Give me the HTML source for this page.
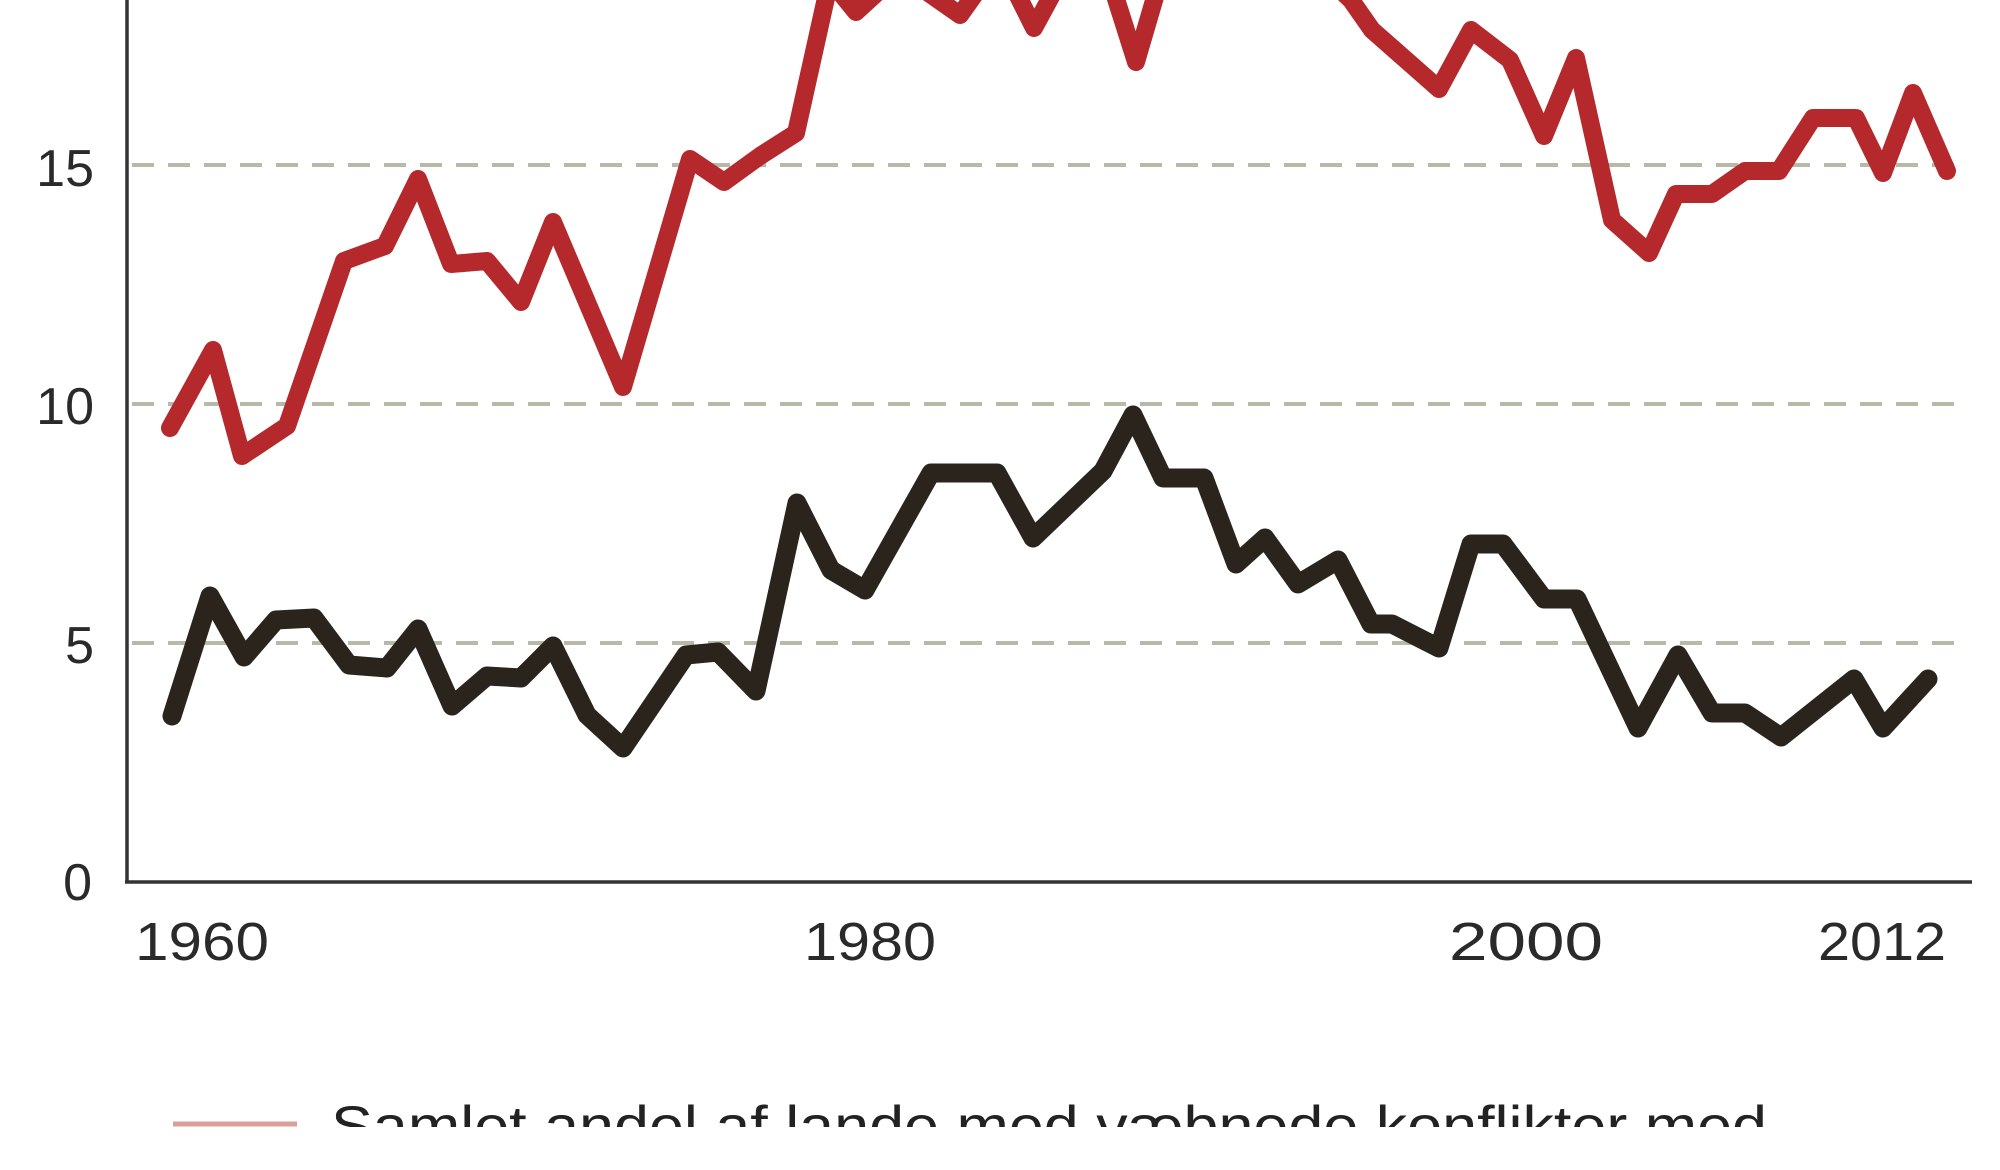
<!DOCTYPE html>
<html><head><meta charset="utf-8"><style>html,body{margin:0;padding:0;background:#fff;overflow:hidden}</style></head>
<body>
<svg width="2000" height="1165" viewBox="0 0 2000 1165" xmlns="http://www.w3.org/2000/svg">
<rect width="2000" height="1165" fill="#fff"/>
<g stroke="#b9b9aa" stroke-width="4" stroke-dasharray="22,14">
<line x1="132" y1="165" x2="1962" y2="165"/>
<line x1="132" y1="404" x2="1962" y2="404"/>
<line x1="132" y1="643" x2="1962" y2="643"/>
</g>
<g stroke="#333" stroke-width="3.5" fill="none">
<line x1="127" y1="0" x2="127" y2="883"/>
<line x1="125" y1="882" x2="1972" y2="882"/>
</g>
<g font-family="Liberation Sans, sans-serif" font-size="52" fill="#2a2a2a" text-anchor="end">
<text x="94" y="186">15</text>
<text x="94" y="424">10</text>
<text x="94" y="663">5</text>
<text x="92" y="900">0</text>
</g>
<g font-family="Liberation Sans, sans-serif" font-size="54" fill="#2a2a2a">
<text x="135" y="960" textLength="134" lengthAdjust="spacingAndGlyphs">1960</text>
<text x="804" y="960" textLength="132" lengthAdjust="spacingAndGlyphs">1980</text>
<text x="1449" y="960" textLength="154" lengthAdjust="spacingAndGlyphs">2000</text>
<text x="1818" y="960" textLength="128" lengthAdjust="spacingAndGlyphs">2012</text>
</g>
<polyline fill="none" stroke="#b5282c" stroke-width="18" stroke-linejoin="round" stroke-linecap="round" points="170,428 213,350 242,456 287,426 344,261 385,246 418,179 451,264 487,261 521,302 553,222 623,387 690,159 724,182 760,156 796,133 830,-20 856,12 880,-10 910,-20 960,15 985,-20 1010,-20 1034,28 1060,-20 1110,-20 1136,62 1160,-20 1330,-20 1351,0 1372,30 1439,89 1471,30 1510,60 1544,136 1576,58 1612,220 1649,253 1676,194 1712,194 1745,171 1779,171 1813,118 1856,118 1883,173 1913,93 1947,171"/>
<polyline fill="none" stroke="#2b241c" stroke-width="19" stroke-linejoin="round" stroke-linecap="round" points="172,716 210,596 244,657 276,620 314,618 349,665 387,668 418,629 452,706 487,676 521,678 553,646 587,715 623,748 686,655 718,652 756,691 797,503 831,570 865,590 931,473 997,473 1033,538 1103,471 1133,415 1163,478 1204,478 1236,564 1265,538 1298,584 1338,560 1371,624 1392,624 1439,648 1471,544 1503,544 1544,599 1577,599 1638,728 1678,655 1712,713 1745,713 1781,737 1854,679 1883,728 1928,679"/>
<line x1="173" y1="1124" x2="297" y2="1124" stroke="#d9a099" stroke-width="5"/>
<text x="331" y="1145" font-family="Liberation Sans, sans-serif" font-size="56" fill="#222" textLength="1436" lengthAdjust="spacingAndGlyphs">Samlet andel af lande med væbnede konflikter med</text>
<rect x="0" y="1127" width="2000" height="38" fill="#fff"/>
</svg>
</body></html>
